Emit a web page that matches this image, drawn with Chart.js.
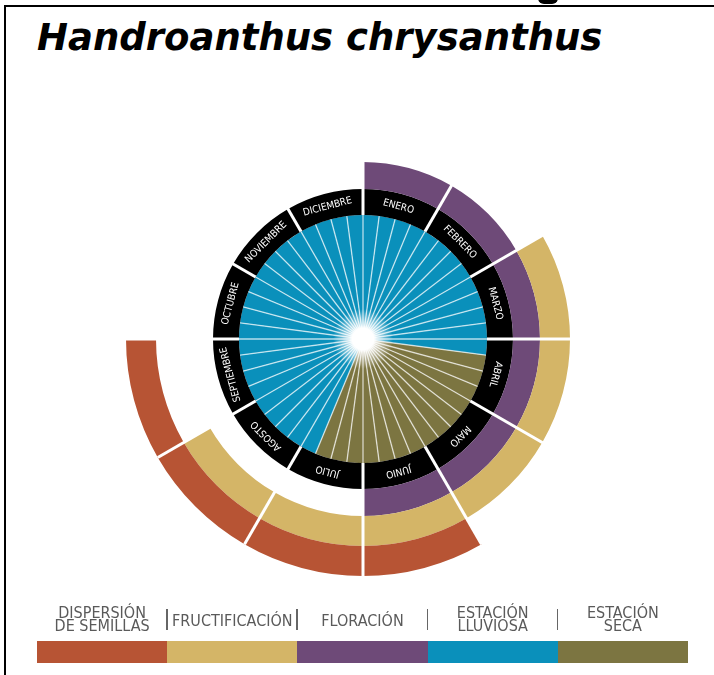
<!DOCTYPE html>
<html>
<head>
<meta charset="utf-8">
<script src="https://cdn.jsdelivr.net/npm/chart.js@4.4.1/dist/chart.umd.min.js"></script>
<style>
  body { margin: 0; width: 714px; height: 675px; background: #fff; position: relative; overflow: hidden;
         font-family: "Liberation Sans Narrow", "DejaVu Sans Condensed", sans-serif; }
  #marco { position: absolute; left: 4px; top: 5px; width: 800px; height: 800px;
           border-left: 2.5px solid #000; border-top: 2.5px solid #000; }
  #resto { position: absolute; left: 538px; top: -2px; width: 20px; height: 6px; background: #000; border-radius: 0 0 10px 10px; }
  #titulo { position: absolute; left: 37px; top: 19px; font: italic bold 37px "DejaVu Sans", sans-serif; line-height: 1; color: #000; white-space: nowrap; }
  #g1 { position: absolute; left: 0; top: 0; }
  .etq { position: absolute; color: #5a5a5a; font-size: 16px; line-height: 13px; text-align: center; width: 130px; }
  .sep { position: absolute; top: 609px; width: 1.5px; height: 21px; background: #666; }
  .barra { position: absolute; top: 641px; height: 22px; }
</style>
</head>
<body>
<div id="marco"></div>
<div id="resto"></div>
<div id="titulo">Handroanthus chrysanthus</div>
<canvas id="g1" width="714" height="675"></canvas>
<div id="leyenda"></div>
<script>
// Meses del año (anillo negro)
const meses = ['ENERO', 'FEBRERO', 'MARZO', 'ABRIL', 'MAYO', 'JUNIO', 'JULIO', 'AGOSTO', 'SEPTIEMBRE', 'OCTUBRE', 'NOVIEMBRE', 'DICIEMBRE'];
const duracionMes = [1, 1, 1, 1, 1, 1, 1, 1, 1, 1, 1, 1];

// Fenología: 1 = ocurre en el mes
const floracion      = [1, 1, 1, 1, 1, 1, 0, 0, 0, 0, 0, 0];
const fructificacion = [0, 0, 1, 1, 1, 1, 1, 1, 0, 0, 0, 0];
const dispersion     = [0, 0, 0, 0, 0, 1, 1, 1, 1, 0, 0, 0];

// Estación por semana (4 semanas por mes): 1 = seca, 0 = lluviosa
const estacionSeca = [
  0, 0, 0, 0,  0, 0, 0, 0,  0, 0, 0, 0,   // ene - mar
  0, 1, 1, 1,  1, 1, 1, 1,  1, 1, 1, 1,   // abr - jun
  1, 1, 1, 0,  0, 0, 0, 0,  0, 0, 0, 0,   // jul - sep
  0, 0, 0, 0,  0, 0, 0, 0,  0, 0, 0, 0    // oct - dic
];
const duracionSemana = [
  1, 1, 1, 1,  1, 1, 1, 1,  1, 1, 1, 1,
  1, 1, 1, 1,  1, 1, 1, 1,  1, 1, 1, 1,
  1, 1, 1, 1,  1, 1, 1, 1,  1, 1, 1, 1,
  1, 1, 1, 1,  1, 1, 1, 1,  1, 1, 1, 1
];

const cDispersion = '#b75434';
const cFructificacion = '#d4b567';
const cFloracion = '#6e4a78';
const cLluviosa = '#0a90bb';
const cSeca = '#7c7541';
const vacio = 'rgba(0,0,0,0)';

const leyendaTextos = ['DISPERSIÓN<br>DE SEMILLAS', 'FRUCTIFICACIÓN', 'FLORACIÓN', 'ESTACIÓN<br>LLUVIOSA', 'ESTACIÓN<br>SECA'];
const leyendaColores = [cDispersion, cFructificacion, cFloracion, cLluviosa, cSeca];

// Leyenda inferior
const leyenda = document.getElementById('leyenda');
leyendaTextos.forEach((t, i) => {
  const x = 37 + i * 130.2;
  const b = document.createElement('div');
  b.className = 'barra';
  b.style.left = x + 'px';
  b.style.width = '130.6px';
  b.style.background = leyendaColores[i];
  leyenda.appendChild(b);
  const e = document.createElement('div');
  e.className = 'etq';
  e.innerHTML = t;
  e.style.left = (x + 0.1) + 'px';
  e.style.top = (t.includes('<br>') ? 606 : 614) + 'px';
  leyenda.appendChild(e);
  if (i > 0) {
    const s = document.createElement('div');
    s.className = 'sep';
    s.style.left = (x - 1) + 'px';
    leyenda.appendChild(s);
  }
});

// Plugin: rayos blancos, separadores de meses, brillo central y nombres de meses
const rayos = {
  id: 'rayos',
  afterDatasetsDraw(chart) {
    const c = chart.ctx;
    const disco = chart.getDatasetMeta(4).data;
    const anillo = chart.getDatasetMeta(3).data;
    const exterior = chart.getDatasetMeta(0).data[0].outerRadius;
    const x0 = disco[0].x, y0 = disco[0].y;
    c.save();

    c.strokeStyle = 'rgba(255,255,255,0.7)';
    c.lineWidth = 1.3;
    disco.forEach(a => {
      c.beginPath();
      c.moveTo(x0, y0);
      c.lineTo(x0 + a.outerRadius * Math.cos(a.startAngle), y0 + a.outerRadius * Math.sin(a.startAngle));
      c.stroke();
    });

    const g = c.createRadialGradient(x0, y0, 0, x0, y0, 30);
    g.addColorStop(0, '#fff');
    g.addColorStop(0.36, '#fff');
    g.addColorStop(0.46, 'rgba(255,255,255,0.75)');
    g.addColorStop(1, 'rgba(255,255,255,0)');
    c.fillStyle = g;
    c.beginPath();
    c.arc(x0, y0, 30, 0, 2 * Math.PI);
    c.fill();

    c.strokeStyle = '#fff';
    c.lineWidth = 3;
    anillo.forEach(a => {
      const cs = Math.cos(a.startAngle), sn = Math.sin(a.startAngle);
      c.beginPath();
      c.moveTo(x0 + a.innerRadius * cs, y0 + a.innerRadius * sn);
      c.lineTo(x0 + exterior * cs, y0 + exterior * sn);
      c.stroke();
    });

    c.fillStyle = '#fff';
    c.font = '10px "Liberation Sans Narrow", "DejaVu Sans Condensed", sans-serif';
    c.textAlign = 'center';
    c.textBaseline = 'middle';
    anillo.forEach((a, i) => {
      const m = (a.startAngle + a.endAngle) / 2;
      const r = (a.innerRadius + a.outerRadius) / 2;
      c.save();
      c.translate(x0 + r * Math.cos(m), y0 + r * Math.sin(m));
      c.rotate(m + Math.PI / 2);
      c.fillText(meses[i], 0, 0);
      c.restore();
    });
    c.restore();
  }
};

const ctx = document.getElementById('g1').getContext('2d');
new Chart(ctx, {
  type: 'doughnut',
  data: {
    labels: meses,
    datasets: [
      { label: 'Dispersión de semillas', data: duracionMes, weight: 30, borderWidth: 0,
        backgroundColor: dispersion.map(v => v ? cDispersion : vacio) },
      { label: 'Fructificación', data: duracionMes, weight: 30, borderWidth: 0,
        backgroundColor: fructificacion.map(v => v ? cFructificacion : vacio) },
      { label: 'Floración', data: duracionMes, weight: 27, borderWidth: 0,
        backgroundColor: floracion.map(v => v ? cFloracion : vacio) },
      { label: 'Meses', data: duracionMes, weight: 26, borderWidth: 0, backgroundColor: '#000' },
      { label: 'Estación', data: duracionSemana, weight: 124, borderWidth: 0,
        backgroundColor: estacionSeca.map(v => v ? cSeca : cLluviosa) }
    ]
  },
  options: {
    responsive: false,
    animation: false,
    events: [],
    radius: 237,
    cutout: 0,
    hoverOffset: 0,
    elements: { arc: { borderWidth: 0 } },
    layout: { padding: { left: 12, top: 3 } },
    plugins: { legend: { display: false }, tooltip: { enabled: false } }
  },
  plugins: [rayos]
});
</script>
</body>
</html>
